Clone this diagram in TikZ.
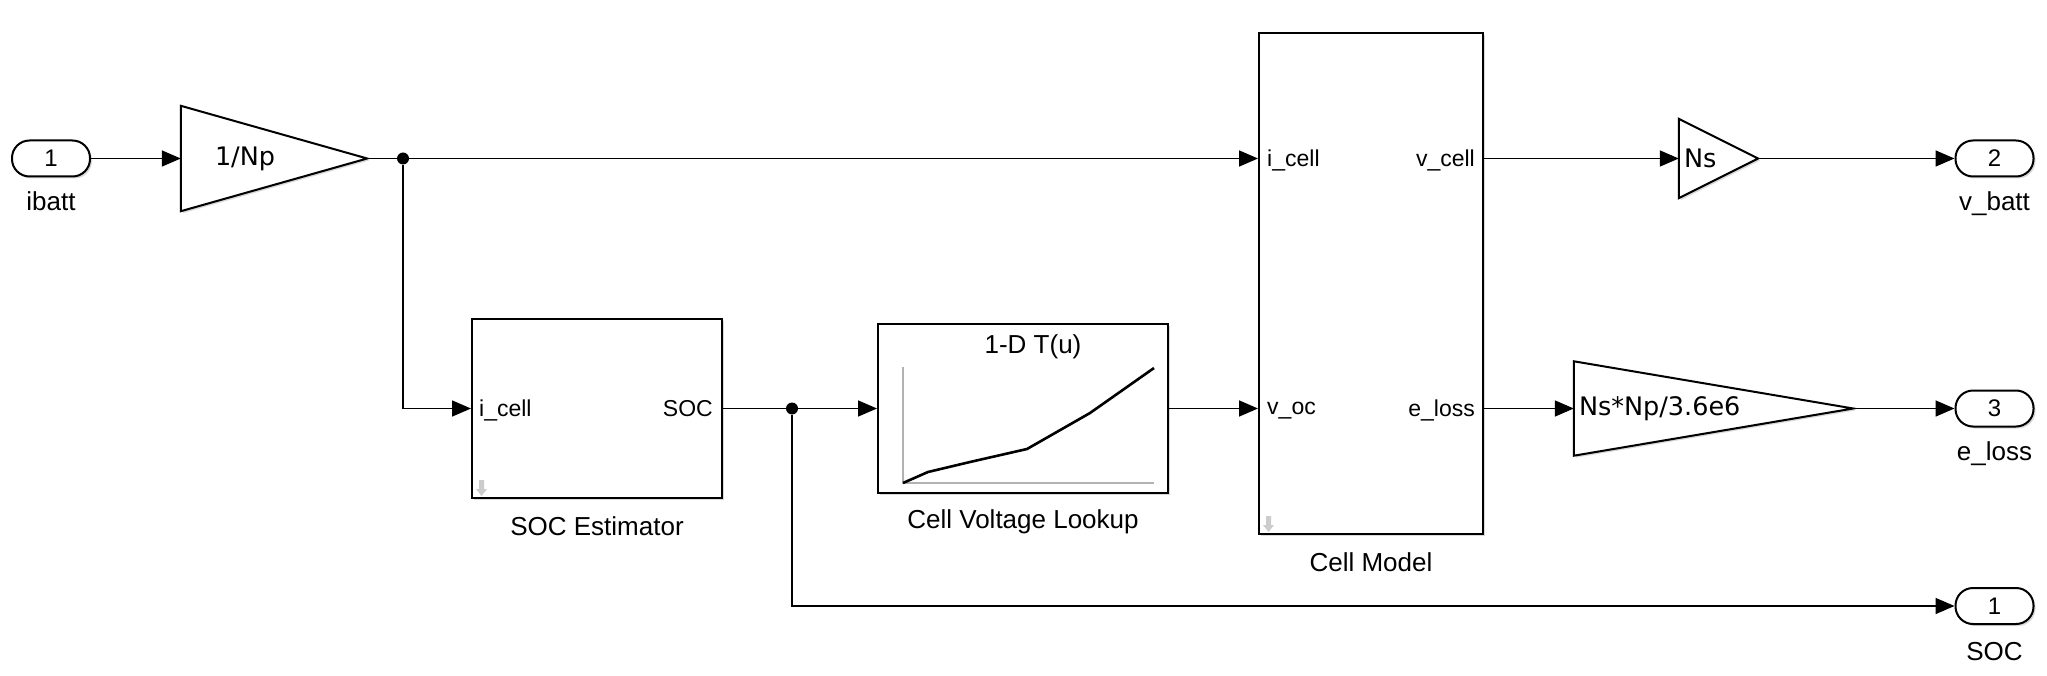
\documentclass[tikz,border=0pt]{standalone}
\usepackage{fontspec}
\setmainfont{Liberation Sans}
\newfontfamily\gainfont{DejaVu Sans}
\usetikzlibrary{arrows.meta,calc,positioning,shadows}

\begin{document}
\begin{tikzpicture}[
  x=1pt,y=-1pt,
  font=\fontsize{26}{30}\selectfont,
  >={Triangle[length=19pt,width=16pt]},
  blk/.style ={draw,line width=2pt,fill=white,
               drop shadow={shadow xshift=2pt,shadow yshift=-2pt,opacity=0.3}},
  sub/.style ={blk,rectangle,inner sep=0pt},
  port/.style={blk,rectangle,rounded corners=17.5pt,minimum width=78pt,
               minimum height=36pt,inner sep=0pt,font=\fontsize{24}{28}\selectfont},
  gain/.style={rectangle,inner sep=0pt},
  gtext/.style={inner sep=0pt,font=\gainfont\fontsize{25.5}{30}\selectfont},
  plabel/.style={inner sep=0pt,text depth=0pt,font=\fontsize{23}{27}\selectfont},
  blkname/.style={inner sep=0pt},
  wire/.style={line width=1.6pt},
  dot/.style ={circle,fill,inner sep=0pt,minimum size=12pt},
]
\useasboundingbox (0,0) rectangle (2047,676);

%% =====================================================
%%  Input port and 1/Np gain
%% =====================================================
\node[port] (in1) at (51,158.5) {1};
\node[blkname,below=14pt of in1] {ibatt};

\node[gain,minimum width=186pt,minimum height=105pt] (gnp) at (274,158.5) {};
\draw[blk] (gnp.north west) -- (gnp.east) -- (gnp.south west) -- cycle;
\node[gtext,right=34pt of gnp.west] {1/Np};

\node[dot] (junc1) at (403,158.5) {};

%% =====================================================
%%  SOC Estimator
%% =====================================================
\node[sub,minimum width=250pt,minimum height=179pt] (soc) at (597,408.5) {};
\node[blkname,below=17pt of soc] {SOC Estimator};
\node[plabel,anchor=west] at ($(soc.west)+(8,0)$) {i\_cell};
\node[plabel,anchor=east] at ($(soc.east)+(-10,0)$) {SOC};

\node[dot] (junc2) at (792,408.5) {};

%% =====================================================
%%  Cell Voltage Lookup
%% =====================================================
\node[sub,minimum width=290pt,minimum height=169pt] (lut) at (1023,408.5) {};
\node[blkname,below=15pt of lut] {Cell Voltage Lookup};
\node (luttitle) at (1033,347) {1-D T(u)};
\draw[gray!60,line width=1.5pt] (903,367) -- (903,483) -- (1154,483);
\draw[line width=2.6pt,line join=round] (903,483) -- (928,472) -- (970,462)
  -- (1027,449) -- (1090,413) -- (1154,368);

%% =====================================================
%%  Cell Model
%% =====================================================
\node[sub,minimum width=224pt,minimum height=501pt] (cell) at (1371,283.5) {};
\node[blkname,below=17pt of cell] {Cell Model};
\node[plabel,anchor=west] at ($(cell.west |- junc1)+(9,0)$) {i\_cell};
\node[plabel,anchor=east] at ($(cell.east |- junc1)+(-9,0)$) {v\_cell};
\node[plabel,anchor=west] at ($(cell.west |- junc2)+(9,0)$) {v\_oc};
\node[plabel,anchor=east] at ($(cell.east |- junc2)+(-9,0)$) {e\_loss};

% subsystem marks
\foreach \bname in {soc,cell} {
  \fill[gray!40] ($(\bname.south west)+(8,-19)$) rectangle ++(5,9)
    ($(\bname.south west)+(5,-10)$) -- ++(11,0) -- ++(-5.5,7) -- cycle;
}

%% =====================================================
%%  Output gains and ports
%% =====================================================
\node[gain,minimum width=79pt,minimum height=79pt] (gns) at (1718.5,158.5) {};
\draw[blk] (gns.north west) -- (gns.east) -- (gns.south west) -- cycle;
\node[gtext,right=5pt of gns.west] {Ns};

\node[gain,minimum width=279pt,minimum height=94pt] (gel) at (1713.5,408.5) {};
\draw[blk] (gel.north west) -- (gel.east) -- (gel.south west) -- cycle;
\node[gtext,right=5pt of gel.west] {Ns*Np/3.6e6};

\node[port] (out2) at (1994.5,158.5) {2};
\node[blkname,below=14pt of out2] {v\_batt};
\node[port] (out3) at (1994.5,408.5) {3};
\node[blkname,below=14pt of out3] {e\_loss};
\node[port] (outsoc) at (1994.5,606) {1};
\node[blkname,below=17pt of outsoc] {SOC};

%% =====================================================
%%  Signal lines
%% =====================================================
\draw[wire,->] (in1.east) -- (gnp.west);
\draw[wire] (gnp.east) -- (junc1);
\draw[wire,->] (junc1) -- (cell.west |- junc1);
\draw[wire,->] (junc1) |- (soc.west);
\draw[wire] (soc.east) -- (junc2);
\draw[wire,->] (junc2) -- (lut.west);
\draw[wire,->] (lut.east) -- (lut.east -| cell.west);
\draw[wire,->] (cell.east |- gns.west) -- (gns.west);
\draw[wire,->] (gns.east) -- (out2.west);
\draw[wire,->] (cell.east |- gel.west) -- (gel.west);
\draw[wire,->] (gel.east) -- (out3.west);
\draw[wire,->] (junc2) |- (outsoc.west);

\end{tikzpicture}
\end{document}
